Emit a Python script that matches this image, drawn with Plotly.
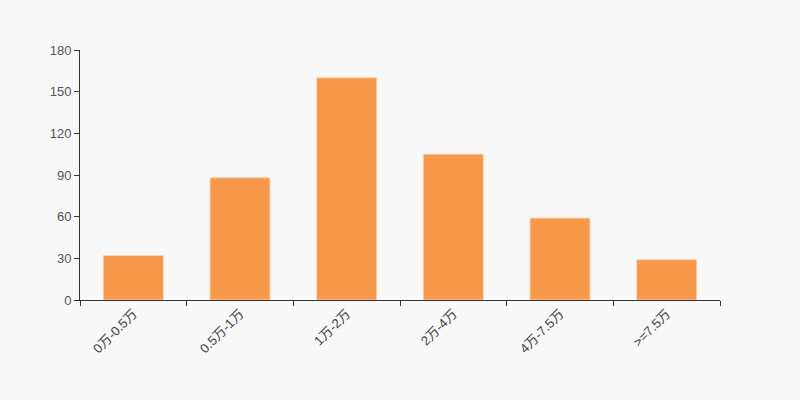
import plotly.graph_objects as go

categories = ["0万-0.5万", "0.5万-1万", "1万-2万", "2万-4万", "4万-7.5万", ">=7.5万"]
values = [32, 88, 160, 105, 59, 29]
y_ticks = [0, 30, 60, 90, 120, 150, 180]

fig = go.Figure(go.Bar(
    x=categories,
    y=values,
    marker=dict(color="#f7974a", line=dict(color="rgba(255,210,180,0.9)", width=1)),
    hoverinfo="x+y",
))

font_family = "Liberation Sans, Arial, Noto Sans CJK SC, sans-serif"
fig.update_layout(
    width=800, height=400,
    margin=dict(l=80, r=80, t=50, b=100),
    paper_bgcolor="#f8f8f8",
    plot_bgcolor="#f8f8f8",
    bargap=0.4375,
    showlegend=False,
    font=dict(family=font_family, size=12, color="#444"),
)
fig.update_xaxes(
    type="category",
    showline=True, linecolor="#333", linewidth=1,
    ticks="outside", ticklen=5, tickcolor="#333",
    tickson="boundaries",
    tickangle=-45,
    tickfont=dict(size=13, color="#444"),
    showgrid=False, zeroline=False,
)
fig.update_yaxes(
    range=[0, 180],
    tickvals=y_ticks,
    showline=True, linecolor="#333", linewidth=1,
    ticks="outside", ticklen=5, tickcolor="#333",
    tickfont=dict(size=13, color="#555"),
    showgrid=False, zeroline=False,
)

fig.write_html(
    "out.html",
    config={"displayModeBar": False},
    post_script="document.body.style.margin='0';document.body.style.background='#f8f8f8';",
)
